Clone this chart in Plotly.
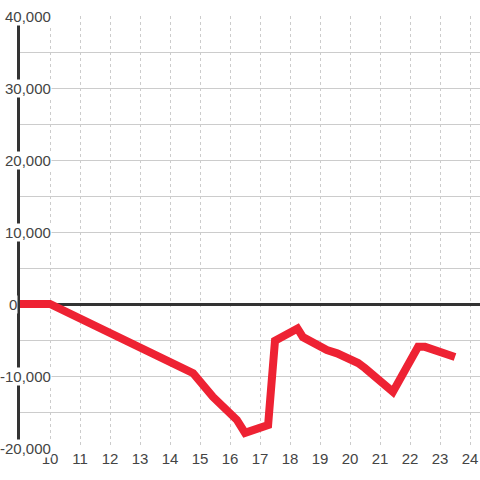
import plotly.graph_objects as go

# values
x_vals = [9.0, 10.0, 14.77, 15.27, 15.43, 16.23, 16.5, 17.27, 17.5, 18.25,
          18.43, 19.23, 19.57, 20.27, 20.5, 21.43, 22.27, 22.5, 23.5]
y_vals = [0, 0, -9600, -12400, -12900, -16100, -17900, -16800, -5100, -3400,
          -4600, -6400, -6850, -8200, -8900, -12200, -5950, -5950, -7350]

x_ticks = list(range(10, 25))
y_label_vals = [40000, 30000, 20000, 10000, 0, -10000, -20000]
y_labels = ["40,000", "30,000", "20,000", "10,000", "0", "-10,000", "-20,000"]

PLOT_W = 460  # plot area width in px

fig = go.Figure()
fig.add_trace(go.Scatter(x=x_vals, y=y_vals, mode="lines",
                         line=dict(color="#EE2233", width=8),
                         hoverinfo="skip"))

# y labels sit on white boxes, covering the axis line and grid start
for v, t in zip(y_label_vals, y_labels):
    if v == 0:
        pos, anchor = -12 / PLOT_W, "left"
    else:
        pos, anchor = 32 / PLOT_W, "right"
    fig.add_annotation(x=pos, y=v, xref="paper", yref="y", text=t,
                       showarrow=False, xanchor=anchor, yanchor="middle",
                       bgcolor="white", borderpad=0,
                       font=dict(size=15, color="#444"))

fig.update_layout(
    width=480, height=480,
    margin=dict(l=20, r=0, t=16, b=32),
    paper_bgcolor="white", plot_bgcolor="white",
    showlegend=False,
    font=dict(family="Liberation Sans, Arial, sans-serif", size=15, color="#444"),
)
fig.update_xaxes(range=[9, 9 + PLOT_W / 30], tickvals=x_ticks,
                 showgrid=True, gridcolor="#cccccc", griddash="dot", gridwidth=1,
                 zeroline=False, showline=False, ticks="",
                 tickfont=dict(size=15, color="#444"))
fig.update_yaxes(range=[-20000, 40000], dtick=5000, tick0=0,
                 showgrid=True, gridcolor="#cccccc", gridwidth=1,
                 zeroline=True, zerolinecolor="#333333", zerolinewidth=3,
                 showline=True, linecolor="#333333", linewidth=3,
                 showticklabels=False, ticks="")

# drop the default page margin so the figure fills the window
fig.write_html("out.html", config={"displayModeBar": False},
               post_script="document.body.style.margin='0';")
